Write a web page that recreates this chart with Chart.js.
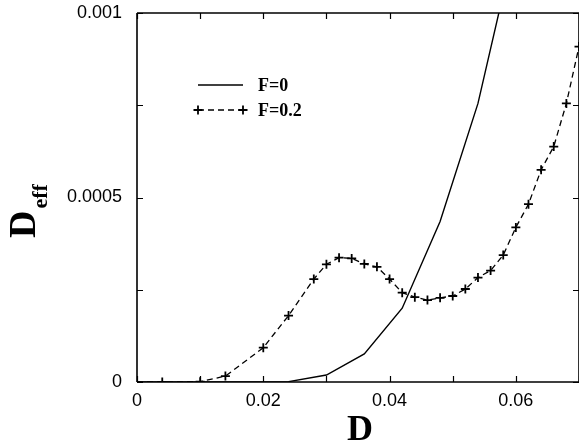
<!DOCTYPE html>
<html><head><meta charset="utf-8">
<script src="https://cdn.jsdelivr.net/npm/chart.js@4/dist/chart.umd.min.js"></script>
<style>html,body{margin:0;padding:0;background:#fff}#wrap{width:579px;height:447px}</style>
</head><body><div id="wrap"><canvas id="c" width="579" height="447"></canvas></div>
<script>
// data
const seriesNames = ['F=0', 'F=0.2'];
const dF0 = [0, 0.006, 0.012, 0.018, 0.024, 0.030, 0.036, 0.042, 0.048, 0.054, 0.060];
const effF0 = [0, 0, 0, 0, 0.000001, 0.000019, 0.000076, 0.0002, 0.000435, 0.000755, 0.0012];
const dF02 = [0, 0.004, 0.010, 0.014, 0.020, 0.024, 0.028, 0.030, 0.032, 0.034, 0.036, 0.038, 0.040, 0.042, 0.044, 0.046, 0.048, 0.050, 0.052, 0.054, 0.056, 0.058, 0.060, 0.062, 0.064, 0.066, 0.068, 0.070];
const effF02 = [0, 0, 0.000001, 0.000016, 0.000093, 0.00018, 0.000279, 0.000319, 0.000337, 0.000335, 0.00032, 0.000312, 0.000279, 0.000242, 0.00023, 0.000222, 0.000228, 0.000233, 0.000252, 0.000283, 0.000302, 0.000344, 0.000419, 0.000482, 0.000575, 0.000638, 0.000755, 0.000909];
const xTickValues = [0, 0.01, 0.02, 0.03, 0.04, 0.05, 0.06, 0.07];
const xTickLabels = ['0', '', '0.02', '', '0.04', '', '0.06', ''];
const yTickValues = [0, 0.00025, 0.0005, 0.00075, 0.001];
const yTickLabels = ['0', '', '0.0005', '', '0.001'];
const xTitle = 'D';
const yTitleMain = 'D';
const yTitleSub = 'eff';

const tickFont = {family: "'Liberation Sans', Arial, sans-serif", size: 18};
const serif = "'Liberation Serif', 'Times New Roman', serif";

const decor = {
  id: 'decor',
  afterDraw(chart) {
    const ctx = chart.ctx, a = chart.chartArea;
    const xs = chart.scales.x, ys = chart.scales.y;
    ctx.save();
    ctx.strokeStyle = '#000';
    ctx.lineWidth = 1.6;
    ctx.beginPath();
    ctx.moveTo(a.left, a.top); ctx.lineTo(a.right, a.top);
    ctx.moveTo(a.left, a.top); ctx.lineTo(a.left, a.bottom);
    ctx.moveTo(a.left, a.bottom); ctx.lineTo(a.right, a.bottom);
    ctx.moveTo(a.right, a.top); ctx.lineTo(a.right, a.bottom);
    ctx.stroke();
    ctx.lineWidth = 1.2;
    const L = 6;
    ctx.beginPath();
    xTickValues.forEach(v => {
      const px = Math.round(xs.getPixelForValue(v)) + 0.5;
      ctx.moveTo(px, a.bottom); ctx.lineTo(px, a.bottom - L);
      ctx.moveTo(px, a.top); ctx.lineTo(px, a.top + L);
    });
    yTickValues.forEach(v => {
      const py = Math.round(ys.getPixelForValue(v)) + 0.5;
      ctx.moveTo(a.left, py); ctx.lineTo(a.left + L, py);
      ctx.moveTo(a.right, py); ctx.lineTo(a.right - L, py);
    });
    ctx.stroke();

    // legend
    const lx0 = a.left + 61, lx1 = a.left + 106, tx = a.left + 121;
    const ly0 = a.top + 72, ly1 = a.top + 97;
    ctx.lineWidth = 1.4;
    ctx.setLineDash([]);
    ctx.beginPath(); ctx.moveTo(lx0, ly0); ctx.lineTo(lx1, ly0); ctx.stroke();
    ctx.setLineDash([6, 4]);
    ctx.beginPath(); ctx.moveTo(lx0, ly1); ctx.lineTo(lx1, ly1); ctx.stroke();
    ctx.setLineDash([]);
    ctx.lineWidth = 1.8;
    [lx0, lx1].forEach(x => {
      ctx.beginPath();
      ctx.moveTo(x - 4.5, ly1); ctx.lineTo(x + 4.5, ly1);
      ctx.moveTo(x, ly1 - 4.5); ctx.lineTo(x, ly1 + 4.5);
      ctx.stroke();
    });
    ctx.fillStyle = '#000';
    ctx.font = 'bold 18px ' + serif;
    ctx.textBaseline = 'middle';
    ctx.textAlign = 'left';
    ctx.fillText(seriesNames[0], tx, ly0 + 1);
    ctx.fillText(seriesNames[1], tx, ly1 + 1);

    // x title
    ctx.font = 'bold 36px ' + serif;
    ctx.textAlign = 'center';
    ctx.textBaseline = 'alphabetic';
    ctx.fillText(xTitle, (a.left + a.right) / 2 + 2, 440);

    // y title with subscript
    ctx.translate(35, 238);
    ctx.rotate(-Math.PI / 2);
    ctx.textAlign = 'left';
    ctx.font = 'bold 38px ' + serif;
    ctx.fillText(yTitleMain, 0, 0);
    const w = ctx.measureText(yTitleMain).width;
    ctx.font = 'bold 22px ' + serif;
    ctx.fillText(yTitleSub, w + 2, 12);
    ctx.restore();
  }
};

new Chart(document.getElementById('c'), {
  type: 'line',
  data: {
    datasets: [
      {
        label: seriesNames[0],
        data: dF0.map((d, i) => ({x: d, y: effF0[i]})),
        borderColor: '#000', borderWidth: 1.4,
        pointRadius: 0, tension: 0, fill: false
      },
      {
        label: seriesNames[1],
        data: dF02.map((d, i) => ({x: d, y: effF02[i]})),
        borderColor: '#000', borderWidth: 1.3, borderDash: [6, 4],
        pointStyle: 'cross', pointRadius: 4.5, pointBorderWidth: 1.8,
        pointBorderColor: '#000', pointBackgroundColor: '#000',
        tension: 0, fill: false
      }
    ]
  },
  options: {
    responsive: false,
    animation: false,
    devicePixelRatio: 1,
    layout: {autoPadding: false, padding: {top: 13, right: 0, left: 0, bottom: 0}},
    plugins: {legend: {display: false}, tooltip: {enabled: false}},
    scales: {
      x: {
        type: 'linear', min: 0, max: 0.07,
        grid: {display: false, drawTicks: false},
        border: {display: false},
        afterBuildTicks: s => { s.ticks = xTickValues.map(v => ({value: v})); },
        afterFit: s => { s.height = 65; s.paddingLeft = 0; s.paddingRight = 0; },
        ticks: {
          font: tickFont, color: '#000', padding: 8, maxRotation: 0, autoSkip: false,
          callback: (v, i) => xTickLabels[i]
        }
      },
      y: {
        type: 'linear', min: 0, max: 0.001,
        grid: {display: false, drawTicks: false},
        border: {display: false},
        afterBuildTicks: s => { s.ticks = yTickValues.map(v => ({value: v})); },
        afterFit: s => { s.width = 137; s.paddingTop = 0; s.paddingBottom = 0; },
        ticks: {
          font: tickFont, color: '#000', padding: 15, autoSkip: false,
          callback: (v, i) => yTickLabels[i]
        }
      }
    }
  },
  plugins: [decor]
});
</script></body></html>
